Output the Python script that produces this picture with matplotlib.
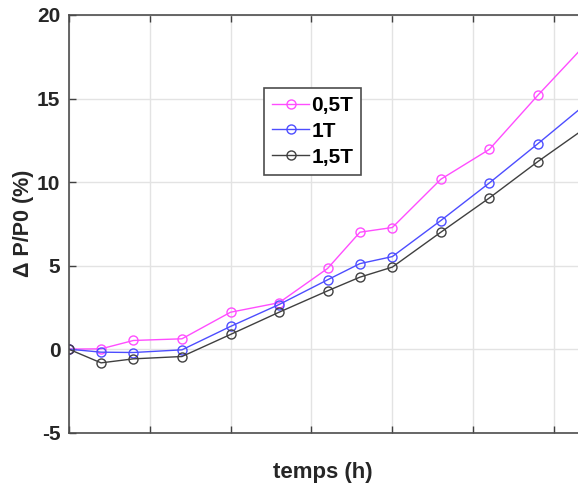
import matplotlib
matplotlib.use("Agg")
import matplotlib.pyplot as plt

plt.rcParams["font.family"] = ["Liberation Sans", "DejaVu Sans"]
plt.rcParams["axes.unicode_minus"] = False

# temps (h)
temps = [0, 2, 4, 7, 10, 13, 16, 18, 20, 23, 26, 29, 32]

# Delta P / P0 (%)
dp_05T = [0, 0.02, 0.52, 0.62, 2.21, 2.78, 4.83, 7.0, 7.28, 10.17, 11.96, 15.2, 18.3]
dp_1T = [0, -0.18, -0.2, -0.04, 1.36, 2.67, 4.15, 5.12, 5.54, 7.7, 9.95, 12.3, 14.7]
dp_15T = [0, -0.82, -0.58, -0.44, 0.88, 2.21, 3.49, 4.31, 4.91, 7.0, 9.05, 11.23, 13.28]

labels = ["0,5T", "1T", "1,5T"]
couleurs = ["#ff4dff", "#4d4dff", "#404040"]

W, H = 578, 491
fig = plt.figure(figsize=(W / 100, H / 100), dpi=100)

# axes plus large que la figure : le bord droit est coupé
x0, y_bas, y_haut = 68.7, 432.7, 15
px_par_h = 80.9 / 5
ax = fig.add_axes([x0 / W, (H - y_bas) / H, 35 * px_par_h / W, (y_bas - y_haut) / H])

for y, lab, c in zip([dp_05T, dp_1T, dp_15T], labels, couleurs):
    ax.plot(temps, y, color=c, linewidth=1, marker="o", markersize=6.5,
            markerfacecolor="none", markeredgewidth=1, label=lab)

ax.set_xlim(0, 35)
ax.set_ylim(-5, 20)
ax.set_xticks(range(0, 36, 5))
ax.set_yticks([-5, 0, 5, 10, 15, 20])
ax.set_xticklabels([])
ax.grid(True, color="#e3e3e3", linewidth=1)
ax.set_axisbelow(True)

ax.tick_params(direction="in", length=5, width=1, color="#404040",
               top=True, right=False, labelsize=15, labelcolor="#262626", pad=6)
for lab in ax.get_yticklabels():
    lab.set_fontweight("bold")

for s in ["left", "top", "bottom"]:
    ax.spines[s].set_color("#4d4d4d")
    ax.spines[s].set_linewidth(1.2)

leg = ax.legend(loc="upper left", bbox_to_anchor=((264 - x0) / (35 * px_par_h), (y_bas - 88) / (y_bas - y_haut)),
                fancybox=False, framealpha=1, edgecolor="#4d4d4d",
                prop={"weight": "bold", "size": 15}, handlelength=1.8,
                handletextpad=0.1, borderpad=0.38, labelspacing=0.33, borderaxespad=0)
leg.get_frame().set_linewidth(1.2)

fig.text(323 / W, 8 / H, "temps (h)", ha="center", va="bottom",
         fontsize=16, fontweight="bold", color="#262626")
fig.text(23 / W, (H - 223.5) / H, "Δ P/P0 (%)", ha="center", va="center",
         rotation=90, fontsize=15.5, fontweight="bold", color="#262626")

fig.savefig("out.png", dpi=100)
